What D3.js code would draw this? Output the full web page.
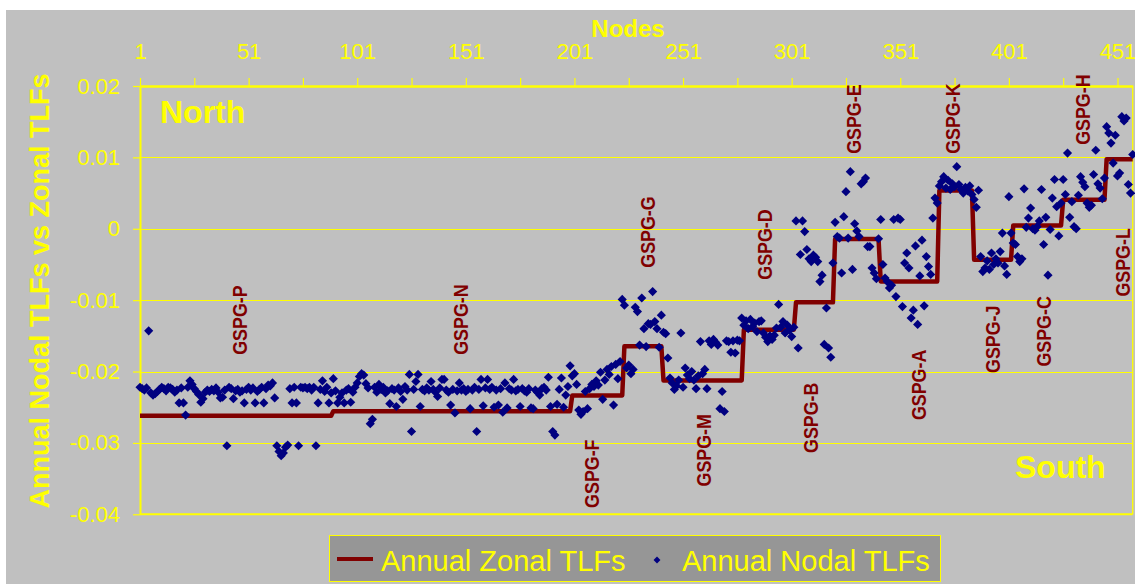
<!DOCTYPE html>
<html><head><meta charset="utf-8">
<script src="https://cdn.jsdelivr.net/npm/d3@7/dist/d3.min.js"></script>
<style>
html,body{margin:0;padding:0;background:#fff;}
svg{display:block;font-family:"Liberation Sans",Arial,sans-serif;}
</style></head>
<body><svg id="c" width="1135" height="584"></svg>
<script>
// ---------- DATA ----------
const nodeCount = 458;
const xTickValues = [1,26,51,76,101,126,151,176,201,226,251,276,301,326,351,376,401,426,451];
const xTickLabels = ["1","51","101","151","201","251","301","351","401","451"];
const yTickValues = [-0.04,-0.03,-0.02,-0.01,0,0.01,0.02];
const yTickLabels = ["-0.04","-0.03","-0.02","-0.01","0","0.01","0.02"];

// Annual Zonal TLFs: [first node, last node, value]
const zonalSegments = [
  [1,89,-0.0262],[90,199,-0.02555],[200,223,-0.02336],[224,241,-0.01646],
  [242,278,-0.02126],[279,302,-0.01413],[303,320,-0.01031],[321,341,-0.00144],
  [342,368,-0.00737],[369,384,0.00536],[385,402,-0.00434],[403,425,0.00046],
  [426,445,0.00406],[446,458,0.00975]
];

// Annual Nodal TLFs, nodes 1..458
const nodalValues = [
-0.0222,-0.0224,-0.0226,-0.0223,-0.0143,-0.0230,-0.0233,-0.0231,-0.0228,-0.0225,
-0.0222,-0.0224,-0.0227,-0.0222,-0.0223,-0.0225,-0.0229,-0.0226,-0.0244,-0.0223,
-0.0244,-0.0261,-0.0222,-0.0213,-0.0218,-0.0224,-0.0228,-0.0232,-0.0243,-0.0238,
-0.0229,-0.0226,-0.0228,-0.0225,-0.0227,-0.0223,-0.0229,-0.0237,-0.0236,-0.0226,
-0.0304,-0.0222,-0.0224,-0.0238,-0.0227,-0.0225,-0.0229,-0.0227,-0.0244,-0.0225,
-0.0222,-0.0226,-0.0223,-0.0244,-0.0228,-0.0225,-0.0222,-0.0244,-0.0224,-0.0219,
-0.0220,-0.0216,-0.0237,-0.0304,-0.0312,-0.0318,-0.0314,-0.0306,-0.0303,-0.0224,
-0.0244,-0.0222,-0.0244,-0.0304,-0.0222,-0.0223,-0.0222,-0.0224,-0.0222,-0.0226,
-0.0222,-0.0304,-0.0244,-0.0225,-0.0213,-0.0228,-0.0222,-0.0244,-0.0230,-0.0210,
-0.0227,-0.0244,-0.0236,-0.0230,-0.0244,-0.0226,-0.0224,-0.0243,-0.0229,-0.0222,
-0.0216,-0.0207,-0.0203,-0.0205,-0.0217,-0.0223,-0.0273,-0.0267,-0.0222,-0.0229,
-0.0218,-0.0225,-0.0222,-0.0230,-0.0227,-0.0245,-0.0224,-0.0226,-0.0249,-0.0223,
-0.0228,-0.0239,-0.0221,-0.0226,-0.0204,-0.0284,-0.0225,-0.0214,-0.0204,-0.0249,
-0.0225,-0.0227,-0.0223,-0.0226,-0.0214,-0.0225,-0.0229,-0.0235,-0.0223,-0.0211,
-0.0211,-0.0226,-0.0229,-0.0247,-0.0225,-0.0258,-0.0227,-0.0216,-0.0226,-0.0224,
-0.0228,-0.0225,-0.0252,-0.0226,-0.0222,-0.0284,-0.0225,-0.0211,-0.0248,-0.0223,
-0.0211,-0.0225,-0.0222,-0.0250,-0.0226,-0.0247,-0.0224,-0.0257,-0.0216,-0.0251,
-0.0224,-0.0226,-0.0211,-0.0227,-0.0225,-0.0249,-0.0224,-0.0227,-0.0229,-0.0224,
-0.0251,-0.0252,-0.0226,-0.0229,-0.0233,-0.0224,-0.0222,-0.0226,-0.0208,-0.0249,
-0.0284,-0.0289,-0.0246,-0.0225,-0.0209,-0.0250,-0.0233,-0.0221,-0.0192,-0.0206,
-0.0203,-0.0218,-0.0254,-0.0260,-0.0256,-0.0228,-0.0252,-0.0224,-0.0218,-0.0221,
-0.0213,-0.0219,-0.0201,-0.0239,-0.0212,-0.0197,-0.0204,-0.0193,-0.0247,-0.0190,
-0.0210,-0.0186,-0.0099,-0.0107,-0.0195,-0.0191,-0.0203,-0.0197,-0.0110,-0.0116,
-0.0163,-0.0097,-0.0140,-0.0165,-0.0133,-0.0134,-0.0088,-0.0130,-0.0140,-0.0166,
-0.0121,-0.0145,-0.0147,-0.0181,-0.0209,-0.0216,-0.0225,-0.0220,-0.0212,-0.0146,
-0.0222,-0.0195,-0.0205,-0.0210,-0.0200,-0.0212,-0.0224,-0.0206,-0.0158,-0.0203,
-0.0197,-0.0224,-0.0157,-0.0162,-0.0155,-0.0159,-0.0163,-0.0252,-0.0228,-0.0256,
-0.0157,-0.0158,-0.0173,-0.0157,-0.0174,-0.0156,-0.0157,-0.0125,-0.0135,-0.0129,
-0.0140,-0.0127,-0.0137,-0.0132,-0.0144,-0.0130,-0.0129,-0.0146,-0.0152,-0.0158,
-0.0150,-0.0155,-0.0149,-0.0139,-0.0106,-0.0138,-0.0130,-0.0146,-0.0135,-0.0142,
-0.0151,-0.0138,0.0011,-0.0167,-0.0036,0.0011,-0.0004,-0.0029,-0.0042,-0.0046,
-0.0037,-0.0040,-0.0046,-0.0074,-0.0065,-0.0162,-0.0111,-0.0167,-0.0180,-0.0048,
0.0009,-0.0011,-0.0013,-0.0062,0.0017,0.0052,-0.0013,0.0080,-0.0057,0.0007,
-0.0003,-0.0011,0.0063,0.0066,0.0071,-0.0025,-0.0025,-0.0055,-0.0062,-0.0070,
-0.0014,0.0013,-0.0050,-0.0069,-0.0074,-0.0083,-0.0079,0.0013,-0.0095,0.0015,
0.0013,-0.0109,-0.0048,-0.0034,-0.0055,-0.0125,-0.0114,-0.0024,-0.0134,-0.0066,
-0.0016,-0.0108,-0.0039,-0.0053,-0.0064,0.0015,0.0043,0.0036,0.0060,0.0066,
0.0073,0.0057,0.0068,0.0055,0.0063,0.0059,0.0087,0.0062,0.0055,0.0050,
0.0058,0.0053,0.0060,0.0048,0.0041,0.0030,0.0054,-0.0039,-0.0060,-0.0055,
-0.0045,-0.0057,-0.0034,-0.0050,-0.0042,-0.0048,-0.0032,-0.0006,-0.0052,-0.0064,
0.0045,-0.0006,-0.0020,-0.0022,-0.0039,-0.0046,-0.0042,0.0056,0.0002,0.0015,
0.0029,0.0000,-0.0002,0.0003,0.0011,0.0055,-0.0022,0.0016,-0.0065,-0.0001,
0.0043,0.0069,0.0031,-0.0010,0.0036,0.0069,0.0048,0.0106,0.0016,0.0038,
0.0003,0.0000,0.0047,0.0073,0.0065,0.0059,0.0036,0.0030,0.0033,0.0076,
0.0110,0.0063,0.0057,0.0042,0.0071,0.0143,0.0134,0.0120,0.0092,0.0131,
0.0074,0.0078,0.0157,0.0151,0.0155,0.0062,0.0050,0.0104
];

// GSPG annotations: name, node position, value where text starts (rotated)
const gspgNames = ["GSPG-P","GSPG-N","GSPG-F","GSPG-G","GSPG-M","GSPG-D","GSPG-B","GSPG-E","GSPG-A","GSPG-K","GSPG-J","GSPG-C","GSPG-H","GSPG-L"];
const gspgNodes = [47,148.3,208.6,234.4,260.2,288.3,309.5,329.3,359.2,374.8,393.3,416.7,434.7,453.1];
const gspgValues = [-0.01765,-0.01765,-0.0391,-0.00546,-0.0361,-0.00714,-0.0314,0.0105,-0.0268,0.0105,-0.0202,-0.0193,0.01176,-0.0095];

const legendLabels = ["Annual Zonal TLFs","Annual Nodal TLFs"];

// ---------- CHART ----------
const YEL = "#FFFF00", NAVY = "#000080", RED = "#800000", BG = "#C0C0C0";
const svg = d3.select("#c");
svg.append("rect").attr("x",6).attr("y",10).attr("width",1129).attr("height",574).attr("fill",BG);

const x = d3.scaleLinear().domain([1,nodeCount]).range([140,1132.7]);
const y = d3.scaleLinear().domain([-0.04,0.02]).range([514.3,86]);

// gridlines
svg.append("g").selectAll("line").data(yTickValues.filter(v=>v>-0.04 && v<0.02)).join("line")
  .attr("x1",x(1)).attr("x2",x(nodeCount))
  .attr("y1",d=>Math.round(y(d))+0.5).attr("y2",d=>Math.round(y(d))+0.5)
  .attr("stroke",YEL).attr("stroke-width",1.2);
// right border & bottom
svg.append("line").attr("x1",x(nodeCount)).attr("x2",x(nodeCount)).attr("y1",y(0.02)).attr("y2",y(-0.04)).attr("stroke",YEL).attr("stroke-width",1.3);
svg.append("line").attr("x1",x(1)).attr("x2",x(nodeCount)).attr("y1",y(-0.04)).attr("y2",y(-0.04)).attr("stroke",YEL).attr("stroke-width",2);

// Top axis
const xAxis = d3.axisTop(x).tickValues(xTickValues).tickSizeInner(8).tickSizeOuter(0).tickPadding(19)
  .tickFormat(d => xTickLabels.includes(String(d)) ? String(d) : "");
const gx = svg.append("g").attr("transform",`translate(0,${y(0.02)})`).call(xAxis);
gx.select(".domain").attr("stroke",YEL).attr("stroke-width",2.5);
gx.selectAll(".tick line").attr("stroke",YEL).attr("stroke-width",1.2);
gx.selectAll(".tick text").attr("fill",YEL).attr("font-size",22).attr("font-family","Liberation Sans, Arial, sans-serif");

// Left axis
const yAxis = d3.axisLeft(y).tickValues(yTickValues).tickSizeInner(7).tickSizeOuter(0).tickPadding(13)
  .tickFormat((d,i) => yTickLabels[yTickValues.indexOf(d)]);
const gy = svg.append("g").attr("transform",`translate(${x(1)},0)`).call(yAxis);
gy.select(".domain").attr("stroke",YEL).attr("stroke-width",2);
gy.selectAll(".tick line").attr("stroke",YEL).attr("stroke-width",1.2);
gy.selectAll(".tick text").attr("fill",YEL).attr("font-size",22).attr("font-family","Liberation Sans, Arial, sans-serif");

// titles
svg.append("text").attr("x",628).attr("y",37).attr("text-anchor","middle").attr("fill",YEL)
  .attr("font-weight","bold").attr("font-size",24).text("Nodes");
svg.append("text").attr("transform","translate(49,291) rotate(-90)").attr("text-anchor","middle").attr("fill",YEL)
  .attr("font-weight","bold").attr("font-size",27).text("Annual Nodal TLFs vs Zonal TLFs");
svg.append("text").attr("x",160).attr("y",123).attr("fill",YEL).attr("font-weight","bold").attr("font-size",32).text("North");
svg.append("text").attr("x",1015).attr("y",478).attr("fill",YEL).attr("font-weight","bold").attr("font-size",32).text("South");

// zonal line
const zonal = [];
zonalSegments.forEach(s => { for (let n=s[0]; n<=s[1]; n++) zonal.push({n, v:s[2]}); });
svg.append("path").datum(zonal)
  .attr("d", d3.line().x(d=>x(d.n)).y(d=>y(d.v)))
  .attr("fill","none").attr("stroke",RED).attr("stroke-width",4.5).attr("stroke-linejoin","round");

// GSPG labels
svg.append("g").selectAll("text").data(gspgNames).join("text")
  .attr("transform",(d,i)=>`translate(${x(gspgNodes[i])},${y(gspgValues[i])}) rotate(-90) scale(0.85,1)`)
  .attr("dy","0.36em").attr("fill",RED).attr("font-weight","bold").attr("font-size",21)
  .text(d=>d);

// nodal points
const sym = d3.symbol().type(d3.symbolSquare).size(42);
svg.append("g").selectAll("path").data(nodalValues).join("path")
  .attr("transform",(d,i)=>`translate(${x(i+1)},${y(d)}) rotate(45)`)
  .attr("d",sym).attr("fill",NAVY);

// legend
const lg = svg.append("g");
lg.append("rect").attr("x",329.5).attr("y",535.5).attr("width",611).attr("height",46).attr("fill","#969696").attr("stroke",YEL).attr("stroke-width",1);
lg.append("line").attr("x1",337).attr("x2",373).attr("y1",559).attr("y2",559).attr("stroke",RED).attr("stroke-width",4);
lg.append("text").attr("x",381).attr("y",571).attr("fill",YEL).attr("font-size",29).text(legendLabels[0]);
lg.append("path").attr("transform","translate(657,560) rotate(45)").attr("d",d3.symbol().type(d3.symbolSquare).size(24)).attr("fill",NAVY);
lg.append("text").attr("x",682).attr("y",571).attr("fill",YEL).attr("font-size",29).text(legendLabels[1]);
</script></body></html>
